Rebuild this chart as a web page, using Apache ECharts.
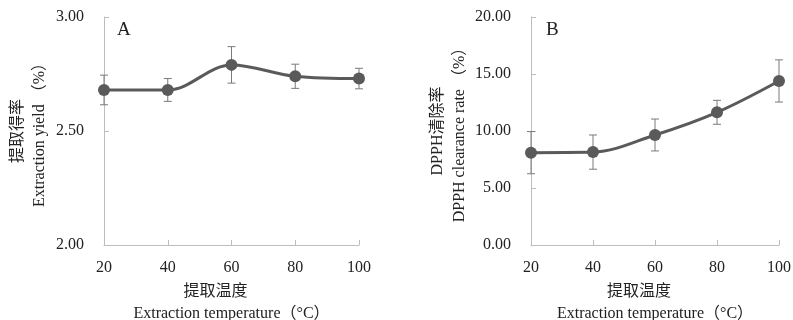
<!DOCTYPE html>
<html><head><meta charset="utf-8">
<script src="https://cdn.jsdelivr.net/npm/echarts@6/dist/echarts.min.js"></script>
<style>html,body{margin:0;padding:0;background:#fff}#c{width:793px;height:320px}</style>
</head><body><div id="c"></div>
<script>
const temps = [20, 40, 60, 80, 100];
const yieldVals = [2.68, 2.68, 2.79, 2.74, 2.73];
const yieldErr = [0.065, 0.05, 0.08, 0.053, 0.045];
const dpphVals = [8.1, 8.15, 9.65, 11.64, 14.39];
const dpphErr = [1.85, 1.5, 1.4, 1.05, 1.85];
const yieldTicks = [2.0, 2.5, 3.0];
const dpphTicks = [0, 5, 10, 15, 20];

const serif = '"Liberation Serif", "Noto Sans CJK SC", serif';
const txt = '#222';
const axisGray = '#bdbdbd';

function errSeries(idx, vals, errs) {
  return {
    type: 'custom', xAxisIndex: idx, yAxisIndex: idx, z: 1,
    data: temps.map((t, i) => [t, vals[i] - errs[i], vals[i] + errs[i]]),
    renderItem: function (params, api) {
      const lo = api.coord([api.value(0), api.value(1)]);
      const hi = api.coord([api.value(0), api.value(2)]);
      const w = 4;
      const st = { stroke: '#7a7a7a', lineWidth: 1 };
      return { type: 'group', children: [
        { type: 'line', shape: { x1: hi[0], y1: hi[1], x2: lo[0], y2: lo[1] }, style: st },
        { type: 'line', shape: { x1: hi[0] - w, y1: hi[1], x2: hi[0] + w, y2: hi[1] }, style: st },
        { type: 'line', shape: { x1: lo[0] - w, y1: lo[1], x2: lo[0] + w, y2: lo[1] }, style: st }
      ]};
    }
  };
}
function lineSeries(idx, vals) {
  return {
    type: 'line', xAxisIndex: idx, yAxisIndex: idx, z: 3, smooth: 0.35,
    data: temps.map((t, i) => [t, vals[i]]),
    symbol: 'circle', symbolSize: 12,
    lineStyle: { color: '#5a5a5a', width: 3 },
    itemStyle: { color: '#5a5a5a' }
  };
}
function xAxis(idx) {
  return {
    type: 'value', gridIndex: idx, min: 20, max: 100, interval: 20,
    axisLine: { lineStyle: { color: axisGray, width: 1 } },
    axisTick: { inside: true, length: 5, lineStyle: { color: axisGray } },
    splitLine: { show: false },
    axisLabel: { color: txt, fontFamily: serif, fontSize: 16, margin: 15 },
    name: '{cn|提取温度}\n{en|Extraction temperature（°C）}',
    nameLocation: 'middle', nameGap: 36,
    nameTextStyle: {
      color: txt, fontFamily: serif, fontSize: 16, lineHeight: 22,
      rich: {
        cn: { color: txt, fontFamily: serif, fontSize: 16, lineHeight: 22, padding: [0, 32, 0, 0] },
        en: { color: txt, fontFamily: serif, fontSize: 16, lineHeight: 22 }
      }
    }
  };
}
function yAxis(idx, ticks, name, gap) {
  return {
    type: 'value', gridIndex: idx, min: ticks[0], max: ticks[ticks.length - 1],
    interval: ticks[1] - ticks[0],
    axisLine: { show: true, lineStyle: { color: axisGray, width: 1 } },
    axisTick: { show: true, inside: true, length: 5, lineStyle: { color: axisGray } },
    splitLine: { show: false },
    axisLabel: { color: txt, fontFamily: serif, fontSize: 16, margin: 20,
      formatter: v => v.toFixed(2) },
    name: name, nameLocation: 'middle', nameGap: gap, nameRotate: 90,
    nameTextStyle: { color: txt, fontFamily: serif, fontSize: 16, lineHeight: 22 }
  };
}

const chart = echarts.init(document.getElementById('c'));
chart.setOption({
  animation: false,
  backgroundColor: '#fff',
  grid: [
    { left: 104, right: 434, top: 17, bottom: 75, containLabel: false, outerBoundsMode: 'none' },
    { left: 531, right: 14, top: 17, bottom: 75, containLabel: false, outerBoundsMode: 'none' }
  ],
  xAxis: [xAxis(0), xAxis(1)],
  yAxis: [
    yAxis(0, yieldTicks, '提取得率\nExtraction yield （%）', 53),
    yAxis(1, dpphTicks, 'DPPH清除率\nDPPH clearance rate （%）', 60)
  ],
  graphic: [
    { type: 'text', left: 117, top: 21, style: { text: 'A', font: '19px "Liberation Serif", serif', fill: txt } },
    { type: 'text', left: 546, top: 21, style: { text: 'B', font: '19px "Liberation Serif", serif', fill: txt } }
  ],
  series: [
    errSeries(0, yieldVals, yieldErr), lineSeries(0, yieldVals),
    errSeries(1, dpphVals, dpphErr), lineSeries(1, dpphVals)
  ]
});
</script></body></html>
